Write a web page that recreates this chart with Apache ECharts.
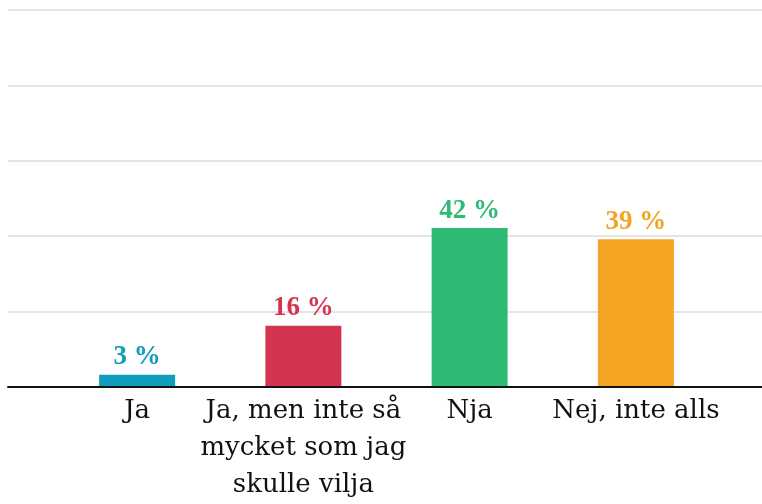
<!DOCTYPE html>
<html>
<head>
<meta charset="utf-8">
<script src="https://cdn.jsdelivr.net/npm/echarts@6/dist/echarts.min.js"></script>
<style>
  html, body { margin: 0; padding: 0; background: #fff; }
  #chart { width: 762px; height: 504px; }
</style>
</head>
<body>
<div id="chart"></div>
<script>
// svar per kategori (procent)
const categories = ['Ja', 'Ja, men inte så\nmycket som jag\nskulle vilja', 'Nja', 'Nej, inte alls'];
const values = [3, 16, 42, 39];
const barColors = ['#0e9dba', '#d3344f', '#2eba74', '#f4a322'];
const yTicks = [0, 20, 40, 60, 80, 100];

const serif = '"DejaVu Serif", serif';
const myChart = echarts.init(document.getElementById('chart'));

const option = {
  backgroundColor: '#fff',
  animation: false,
  grid: [
    {left: 8, right: 0, top: 10, bottom: 117},   // stödlinjer + baslinje
    {left: 54, right: 43, top: 10, bottom: 117}   // staplar
  ],
  xAxis: [
    {
      gridIndex: 0,
      type: 'category',
      data: [''],
      z: 10,
      axisLine: {show: true, lineStyle: {color: '#111', width: 2}},
      axisTick: {show: false},
      axisLabel: {show: false}
    },
    {
      gridIndex: 1,
      type: 'category',
      data: categories,
      axisLine: {show: false},
      axisTick: {show: false},
      axisLabel: {
        color: '#111',
        fontFamily: serif,
        fontSize: 26,
        lineHeight: 37,
        margin: 7,
        interval: 0
      }
    }
  ],
  yAxis: [
    {
      gridIndex: 0,
      type: 'value',
      min: yTicks[0],
      max: yTicks[yTicks.length - 1],
      interval: 20,
      axisLine: {show: false},
      axisTick: {show: false},
      axisLabel: {show: false},
      splitLine: {lineStyle: {color: '#dcdcdc', width: 1.5}}
    },
    {
      gridIndex: 1,
      type: 'value',
      min: yTicks[0],
      max: yTicks[yTicks.length - 1],
      show: false,
      splitLine: {show: false}
    }
  ],
  series: [
    {
      type: 'bar',
      xAxisIndex: 1,
      yAxisIndex: 1,
      barWidth: 76,
      data: values.map((v, i) => ({
        value: v,
        itemStyle: {color: barColors[i]},
        label: {color: barColors[i]}
      })),
      label: {
        show: true,
        position: 'top',
        distance: 4,
        fontFamily: '"Liberation Serif", serif',
        fontWeight: 'bold',
        fontSize: 27,
        formatter: p => p.value + ' %'
      }
    }
  ]
};

myChart.setOption(option);
</script>
</body>
</html>
